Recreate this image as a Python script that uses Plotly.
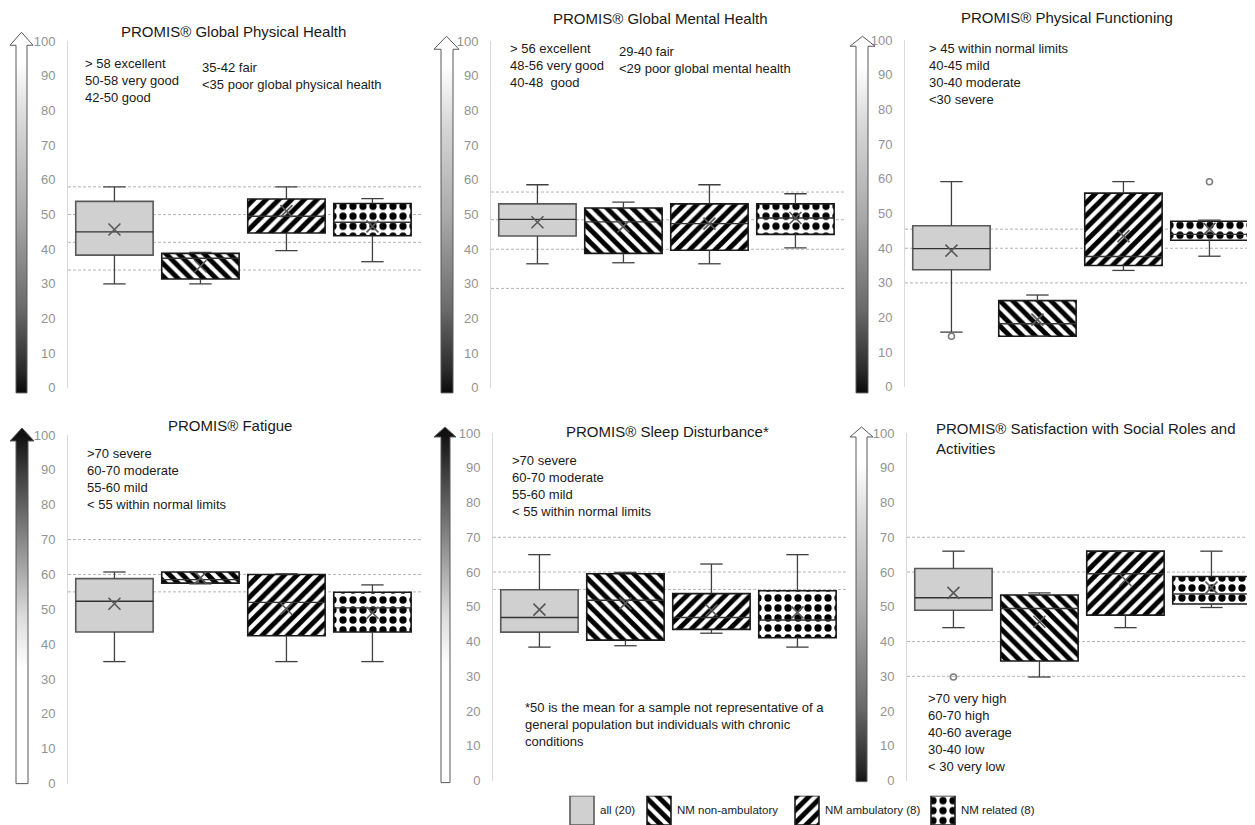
import plotly.graph_objects as go

W, H = 1255, 825
# calibration between figure pixels and the photographed page
X_OFF = 8.0
Y_OFF, Y_SCALE = 15.8, 0.98

groups = ["all (20)", "NM non-ambulatory", "NM ambulatory (8)", "NM related (8)"]
titles = [
    "PROMIS® Global Physical Health",
    "PROMIS® Global Mental Health",
    "PROMIS® Physical Functioning",
    "PROMIS® Fatigue",
    "PROMIS® Sleep Disturbance*",
    "PROMIS® Satisfaction with Social Roles and<br>Activities",
]

# per panel, per group (all, non-amb, amb, related)
lower_whisker = [
    [30.0, 30.0, 39.6, 36.4],
    [35.8, 36.1, 35.8, 40.4],
    [15.8, 14.6, 33.6, 37.7],
    [35.0, 57.3, 35.0, 35.0],
    [38.4, 38.8, 42.4, 38.4],
    [44.0, 29.8, 44.0, 49.8],
]
q1 = [
    [38.3, 31.4, 44.7, 43.9],
    [43.8, 38.8, 39.7, 44.3],
    [33.8, 14.6, 35.0, 42.3],
    [43.5, 57.5, 42.4, 43.5],
    [42.7, 40.4, 43.5, 41.1],
    [49.0, 34.4, 47.6, 50.8],
]
median = [
    [45.0, 37.4, 49.5, 47.8],
    [48.6, 47.9, 47.4, 49.0],
    [39.9, 18.2, 37.6, 44.0],
    [52.3, 58.5, 52.0, 50.4],
    [46.9, 51.9, 46.9, 46.2],
    [52.6, 49.5, 59.5, 53.7],
]
q3 = [
    [53.8, 38.8, 54.5, 53.2],
    [53.1, 51.9, 53.1, 53.1],
    [46.5, 24.9, 55.9, 47.8],
    [58.8, 60.7, 60.0, 54.9],
    [54.9, 59.5, 53.8, 54.6],
    [61.0, 53.4, 66.0, 58.7],
]
upper_whisker = [
    [58.0, 39.1, 58.0, 54.6],
    [58.6, 53.6, 58.6, 56.0],
    [59.2, 26.5, 59.2, 48.1],
    [60.7, 60.7, 60.2, 57.0],
    [65.0, 59.9, 62.3, 65.0],
    [66.0, 54.0, 66.0, 66.0],
]
mean = [
    [45.7, 35.1, 51.0, 46.6],
    [47.8, 46.6, 47.4, 49.0],
    [39.3, 19.4, 43.5, 45.6],
    [51.6, 59.0, 50.1, 49.0],
    [49.2, 51.0, 49.0, 48.4],
    [54.0, 45.7, 57.7, 55.5],
]
# outliers: (panel, group, value)
outlier_panel = [2, 2, 5]
outlier_group = [0, 3, 0]
outlier_value = [14.6, 59.2, 29.8]

thresholds = [
    [58, 50, 42, 34],
    [56.5, 48.5, 40, 28.7],
    [45.5, 40, 30],
    [70, 60, 55],
    [70, 60, 55],
    [70, 60, 40, 30],
]

cutoff_texts = [
    ["> 58 excellent<br>50-58 very good<br>42-50 good", "35-42 fair<br><35 poor global physical health"],
    ["> 56 excellent<br>48-56 very good<br>40-48  good", "29-40 fair<br><29 poor global mental health"],
    ["> 45 within normal limits<br>40-45 mild<br>30-40 moderate<br><30 severe"],
    [">70 severe<br>60-70 moderate<br>55-60 mild<br>< 55 within normal limits"],
    [">70 severe<br>60-70 moderate<br>55-60 mild<br>< 55 within normal limits"],
    [">70 very high<br>60-70 high<br>40-60 average<br>30-40 low<br>< 30 very low"],
]
footnote = "*50 is the mean for a sample not representative of a<br>general population but individuals with chronic<br>conditions"

# ---------------- layout geometry (screen pixels) ----------------
# x0, x1, ytop(100), ybottom(0)
panel_px = [
    (68, 421, 42, 388),
    (491, 844, 42, 388),
    (905, 1262, 41, 387),
    (68, 421, 435, 783),
    (493, 846, 433, 780),
    (907, 1262, 433, 780),
]
UNIT_PX = 86.0  # pixels per category


def fx(x):
    return (x - X_OFF) / W


def fpy(y):
    return (y - Y_OFF) / Y_SCALE


def fy(y):
    return 1 - fpy(y) / H


fills = ["#d0d0d0", "white", "white", "white"]
patterns = [
    dict(shape=""),
    dict(shape="\\", fgcolor="#000000", bgcolor="#ffffff", fgopacity=1, size=9, solidity=0.55),
    dict(shape="/", fgcolor="#000000", bgcolor="#ffffff", fgopacity=1, size=9, solidity=0.55),
    dict(shape=".", fgcolor="#000000", bgcolor="#ffffff", fgopacity=1, size=10, solidity=0.42),
]
outline = ["#595959", "#1a1a1a", "#1a1a1a", "#1a1a1a"]

BOXW = 0.9
CAP = 0.13

fig = go.Figure()
layout = dict(
    width=W, height=H, margin=dict(l=0, r=0, t=0, b=0),
    paper_bgcolor="white", plot_bgcolor="rgba(0,0,0,0)",
    barmode="overlay", showlegend=False,
    font=dict(family="Liberation Sans, Arial", color="#1a1a1a"),
)
shapes = []
annotations = []

for p in range(6):
    k = "" if p == 0 else str(p + 1)
    xa, ya = "x" + k, "y" + k
    x0, x1, yt, yb = panel_px[p]
    width_units = (x1 - x0) / UNIT_PX
    layout["xaxis" + k] = dict(
        domain=[fx(x0), min(fx(x1), 1)], range=[-0.54, -0.54 + width_units],
        visible=False, anchor=ya,
    )
    layout["yaxis" + k] = dict(
        domain=[fy(yb), fy(yt)], range=[0, 100], dtick=10, tick0=0,
        showline=True, linecolor="#d9d9d9", linewidth=1,
        showgrid=False, zeroline=False, ticks="",
        tickfont=dict(size=13, color="#939393", family="Liberation Sans, Arial"),
        ticklabelstandoff=9, anchor=xa,
    )
    for t in thresholds[p]:
        shapes.append(dict(
            type="line", xref=xa + " domain", x0=0, x1=1, yref=ya, y0=t, y1=t,
            line=dict(color="#b4b4b4", width=1, dash="3px,2px"), layer="below",
        ))
    wx, wy = [], []
    mx, my = [], []
    for g in range(4):
        fig.add_trace(go.Bar(
            x=[g], base=[q1[p][g]], y=[q3[p][g] - q1[p][g]], width=BOXW,
            xaxis=xa, yaxis=ya, name=groups[g], opacity=1,
            marker=dict(color=fills[g], pattern=patterns[g], opacity=1,
                        line=dict(color=outline[g], width=1.6)),
        ))
        lo, hi = lower_whisker[p][g], upper_whisker[p][g]
        wx += [g, g, None, g - CAP, g + CAP, None,
               g, g, None, g - CAP, g + CAP, None]
        wy += [q3[p][g], hi, None, hi, hi, None,
               q1[p][g], lo, None, lo, lo, None]
        mx += [g - BOXW / 2, g + BOXW / 2, None]
        my += [median[p][g], median[p][g], None]
    fig.add_trace(go.Scatter(x=wx, y=wy, mode="lines", xaxis=xa, yaxis=ya,
                             line=dict(color="#404040", width=1.3), hoverinfo="skip"))
    fig.add_trace(go.Scatter(x=mx, y=my, mode="lines", xaxis=xa, yaxis=ya,
                             line=dict(color="#333333", width=1.4), hoverinfo="skip"))
    fig.add_trace(go.Scatter(
        x=list(range(4)), y=mean[p], mode="markers", xaxis=xa, yaxis=ya,
        marker=dict(symbol="x-thin", size=12, line=dict(color="#595959", width=1.6)),
    ))
    ox = [outlier_group[i] for i in range(len(outlier_value)) if outlier_panel[i] == p]
    oy = [outlier_value[i] for i in range(len(outlier_value)) if outlier_panel[i] == p]
    if ox:
        fig.add_trace(go.Scatter(
            x=ox, y=oy, mode="markers", xaxis=xa, yaxis=ya,
            marker=dict(symbol="circle-open", size=6, color="#7f7f7f", line=dict(width=1.6)),
        ))

# ---------------- gradient arrows (overlay axis in screen pixel units) ----------------
layout["xaxis7"] = dict(domain=[0, 1], range=[X_OFF, W + X_OFF], visible=False, anchor="y7")
layout["yaxis7"] = dict(domain=[0, 1], range=[0, H], visible=False, anchor="x7")


def oy_(ypx):
    return H - fpy(ypx)


# shaft_x0, shaft_x1, head_x0, head_x1, tip_y, head_base_y, bottom_y, dark_on_top
arrows = [
    (16, 27, 10, 33, 33, 46, 393, False),
    (441, 453, 434, 459, 37, 50, 393, False),
    (856, 868, 850, 875, 37, 47, 393, False),
    (16, 28, 10, 34, 428, 441, 783, True),
    (441, 450, 434, 456, 427, 437, 782, True),
    (856, 867, 850, 873, 427, 437, 781, False),
]
up_light = [[0, "#000000"], [0.08, "#2a2a2a"], [0.25, "#6a6a6a"], [0.5, "#a8a8a8"],
            [0.75, "#d6d6d6"], [0.92, "#ffffff"], [1, "#ffffff"]]
up_dark = [[0, "#ffffff"], [0.36, "#ffffff"], [0.5, "#dcdcdc"], [0.7, "#8c8c8c"],
           [0.88, "#444444"], [1, "#111111"]]
for sx0, sx1, hx0, hx1, tip, hb, bot, dark in arrows:
    tx = (hx0 + hx1) / 2
    xs = [sx0, sx0, hx0, tx, hx1, sx1, sx1, sx0]
    ys = [oy_(bot), oy_(hb), oy_(hb), oy_(tip), oy_(hb), oy_(hb), oy_(bot), oy_(bot)]
    fig.add_trace(go.Scatter(
        x=xs, y=ys, mode="lines", fill="toself", xaxis="x7", yaxis="y7",
        line=dict(color="#595959", width=1),
        fillgradient=dict(type="vertical", colorscale=up_dark if dark else up_light,
                          start=oy_(bot), stop=oy_(tip)),
        hoverinfo="skip",
    ))

# ---------------- custom legend ----------------
layout["xaxis8"] = dict(domain=[0, 1], range=[X_OFF, W + X_OFF], visible=False, anchor="y8")
layout["yaxis8"] = dict(domain=[max(fy(826), 0), fy(795)], range=[0, 31], visible=False, anchor="x8")
legend_box_x = [582, 659, 807, 943]
legend_text_x = [598, 675, 823, 959]
for g in range(4):
    fig.add_trace(go.Bar(
        x=[legend_box_x[g]], y=[31], width=[24], xaxis="x8", yaxis="y8",
        marker=dict(color=fills[g], pattern=patterns[g],
                    line=dict(color=outline[g], width=1.6)),
        hoverinfo="skip",
    ))
    annotations.append(dict(
        text=groups[g], x=fx(legend_text_x[g]), y=fy(809), xref="paper", yref="paper",
        xanchor="left", yanchor="middle", showarrow=False,
        font=dict(size=11.5, color="#1a1a1a"),
    ))

# ---------------- titles and text ----------------
title_pos = [(233, 32, "center"), (660, 19, "center"), (1067, 18, "center"),
             (230, 426, "center"), (667, 432, "center"), (934, 439, "left")]
for p in range(6):
    tx, ty, al = title_pos[p]
    annotations.append(dict(
        text=titles[p], x=fx(tx), y=fy(ty), xref="paper", yref="paper",
        xanchor="center" if al == "center" else "left", yanchor="middle", align="left",
        showarrow=False, font=dict(size=15, color="#1a1a1a"),
    ))

text_pos = [
    [(83, 55), (200, 59)],
    [(508, 40), (617, 43)],
    [(927, 40)],
    [(85, 444)],
    [(510, 451)],
    [(926, 689)],
]
for p in range(6):
    for txt, (tx, ty) in zip(cutoff_texts[p], text_pos[p]):
        annotations.append(dict(
            text=txt, x=fx(tx), y=fy(ty), xref="paper", yref="paper",
            xanchor="left", yanchor="top", align="left", showarrow=False,
            font=dict(size=13, color="#1a1a1a"),
        ))
annotations.append(dict(
    text=footnote, x=fx(523), y=fy(698), xref="paper", yref="paper",
    xanchor="left", yanchor="top", align="left", showarrow=False,
    font=dict(size=13, color="#1a1a1a"),
))

layout["shapes"] = shapes
layout["annotations"] = annotations
fig.update_layout(**layout)
fig.write_html("out.html")
